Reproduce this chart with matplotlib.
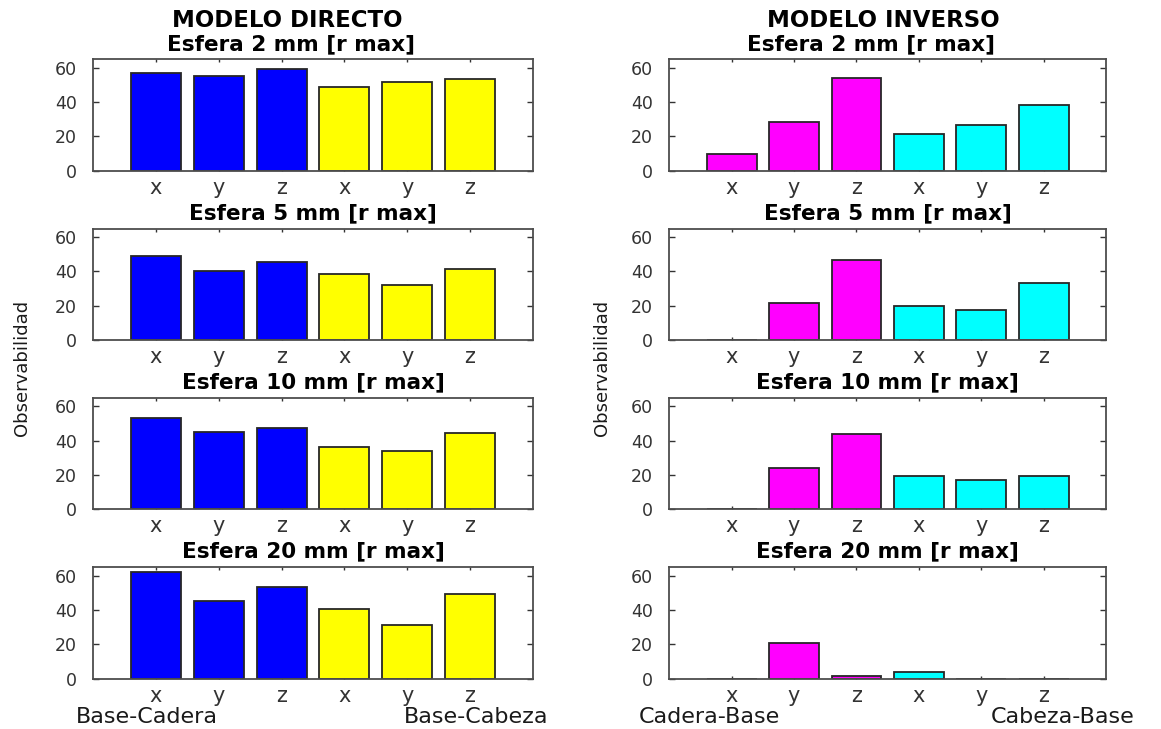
import matplotlib.pyplot as plt

# tamaños de esfera (una fila por esfera)
esferas = [2, 5, 10, 20]
ejes = ["x", "y", "z", "x", "y", "z"]

# observabilidad, modelo directo (Base-Cadera x,y,z | Base-Cabeza x,y,z)
directo_2 = [57.0, 55.5, 59.5, 49.0, 51.5, 53.5]
directo_5 = [49.0, 40.0, 45.7, 38.5, 32.0, 41.7]
directo_10 = [53.0, 45.0, 47.2, 36.5, 34.0, 44.3]
directo_20 = [62.0, 45.0, 53.6, 40.5, 31.2, 49.2]

# observabilidad, modelo inverso (Cadera-Base x,y,z | Cabeza-Base x,y,z)
inverso_2 = [9.7, 28.6, 53.8, 21.7, 26.9, 38.3]
inverso_5 = [0.0, 21.8, 46.5, 19.8, 17.4, 33.0]
inverso_10 = [0.0, 24.3, 44.2, 19.3, 17.1, 19.3]
inverso_20 = [0.0, 20.9, 1.7, 4.1, 0.0, 0.0]

directo = [directo_2, directo_5, directo_10, directo_20]
inverso = [inverso_2, inverso_5, inverso_10, inverso_20]

col_directo = ["#0000ff"] * 3 + ["#ffff00"] * 3
col_inverso = ["#ff00ff"] * 3 + ["#00ffff"] * 3

W, H = 1161, 729
fig = plt.figure(figsize=(W / 100, H / 100), dpi=100)
plt.rcParams["font.family"] = "DejaVu Sans"

gris = "#333333"
col_x = [(93.3, 532.7), (669.3, 1106.0)]
fila_y = [59.3, 228.6, 397.9, 567.2]
alto = 111.4


def caja(x0, x1, ytop):
    return [x0 / W, 1 - (ytop + alto) / H, (x1 - x0) / W, alto / H]


pos = list(range(1, 7))
for c, (datos, colores) in enumerate([(directo, col_directo), (inverso, col_inverso)]):
    for f, esf in enumerate(esferas):
        ax = fig.add_axes(caja(*col_x[c], fila_y[f]))
        ax.bar(pos, datos[f], width=0.8, color=colores, edgecolor="#262626", linewidth=1.3)
        ax.set_xlim(0, 7)
        ax.set_ylim(0, 65)
        ax.set_xticks(pos)
        ax.set_xticklabels(ejes, fontsize=15, color=gris)
        ax.set_yticks([0, 20, 40, 60])
        ax.tick_params(axis="y", direction="in", length=4.3, width=1, pad=12,
                       labelsize=12.5, labelcolor=gris, right=True, color=gris)
        ax.tick_params(axis="x", direction="in", length=2.5, width=1, pad=5,
                       labelcolor=gris, top=True, color=gris)
        ax.set_axisbelow(True)
        for s in ax.spines.values():
            s.set_color("#4d4d4d")
            s.set_linewidth(1.3)
        titulo = "Esfera %d mm [r max]" % esf
        if f == 0:
            xt = [0.45, 0.461][c]
            xm = [0.441, 0.489][c]
            ax.set_title(titulo, x=xt, fontsize=15.5, fontweight="bold", pad=6.8)
            ax.text(xm, 1 + 32 / alto, ["MODELO DIRECTO", "MODELO INVERSO"][c],
                    transform=ax.transAxes, ha="center", va="baseline",
                    fontsize=16.5, fontweight="bold")
        else:
            ax.set_title(titulo, fontsize=15.5, fontweight="bold", pad=6.8)

# etiquetas de grupo bajo la última fila
grupos = [("Base-Cadera", 147), ("Base-Cabeza", 476.5),
          ("Cadera-Base", 709), ("Cabeza-Base", 1063)]
for txt, xc in grupos:
    fig.text(xc / W, 1 - 723 / H, txt, ha="center", va="baseline", fontsize=16, color="#1a1a1a")

# eje y de cada columna
for xc in [22.5, 602.5]:
    fig.text(xc / W, 1 - 368 / H, "Observabilidad", rotation=90, ha="center", va="center",
             fontsize=13, color="#1a1a1a")

fig.savefig("out.png", dpi=100)
